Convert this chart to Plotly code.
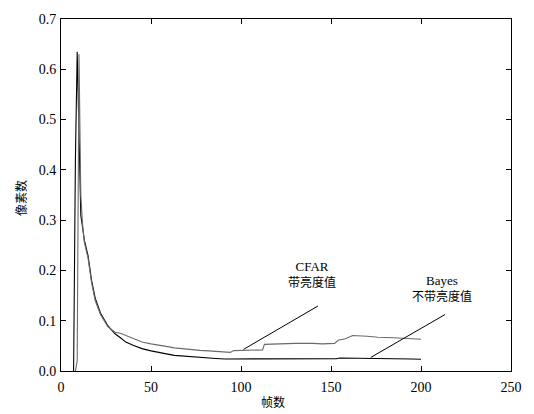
import plotly.graph_objects as go

# ---- data ----
frames_bayes = [7, 8, 9, 10, 11, 12, 13, 15, 17, 19, 22, 26, 30, 33, 36, 40, 45, 50, 54,
                60, 63, 68, 72, 77, 82, 86, 91, 96, 100, 104, 110, 120, 130, 140, 150,
                153, 155, 158, 160, 165, 175, 185, 195, 200]
bayes = [0.0, 0.42, 0.635, 0.46, 0.31, 0.285, 0.26, 0.23, 0.18, 0.145, 0.115, 0.09, 0.074,
         0.066, 0.0575, 0.051, 0.0445, 0.040, 0.0366, 0.033, 0.031, 0.0295, 0.028, 0.027,
         0.0255, 0.025, 0.024, 0.024, 0.0245, 0.024, 0.0245, 0.024, 0.024, 0.0235, 0.024,
         0.0245, 0.026, 0.026, 0.0245, 0.025, 0.025, 0.0245, 0.024, 0.0235]

frames_cfar = [8, 9, 10, 11, 12, 13, 15, 17, 19, 22, 26, 30, 33, 36, 40, 45, 50, 54, 60,
               63, 68, 72, 77, 82, 86, 91, 94, 96, 100, 104, 110, 112, 113, 120, 130, 140,
               145, 152, 154, 158, 162, 170, 176, 185, 192, 200]
cfar = [0.0, 0.02, 0.63, 0.35, 0.29, 0.255, 0.225, 0.175, 0.14, 0.112, 0.088, 0.077, 0.075,
        0.0706, 0.064, 0.0575, 0.054, 0.051, 0.048, 0.046, 0.044, 0.0425, 0.041, 0.040,
        0.0385, 0.037, 0.037, 0.0405, 0.041, 0.042, 0.042, 0.042, 0.053, 0.054, 0.055,
        0.055, 0.054, 0.055, 0.061, 0.064, 0.0706, 0.069, 0.067, 0.066, 0.065, 0.063]

x_ticks = [0, 50, 100, 150, 200, 250]
y_ticks = [0.0, 0.1, 0.2, 0.3, 0.4, 0.5, 0.6, 0.7]

serif = "Liberation Serif, Times New Roman, serif"
cjk = "Noto Sans CJK SC, sans-serif"

fig = go.Figure()
fig.add_trace(go.Scatter(x=frames_bayes, y=bayes, mode="lines",
                         line=dict(color="#000000", width=1.1), name="Bayes"))
fig.add_trace(go.Scatter(x=frames_cfar, y=cfar, mode="lines",
                         line=dict(color="#6a6a6a", width=1.1), name="CFAR"))

axis_common = dict(showline=True, linecolor="black", linewidth=1, mirror="ticks",
                   ticks="inside", ticklen=5, tickcolor="black", tickwidth=1,
                   showgrid=False, zeroline=False,
                   tickfont=dict(family=serif, size=14, color="black"))

fig.update_layout(
    width=534, height=414,
    margin=dict(l=61, r=17, t=14, b=43),
    paper_bgcolor="white", plot_bgcolor="white",
    showlegend=False,
    xaxis=dict(range=[0, 250], tickvals=x_ticks, ticktext=[str(v) for v in x_ticks],
               ticklabelstandoff=3, **axis_common),
    yaxis=dict(range=[0, 0.7], tickvals=y_ticks, ticktext=[f"{v:.1f}" for v in y_ticks],
               ticklabelstandoff=1, **axis_common),
)

serif_span = ("<span style='font-family:Liberation Serif, Times New Roman, serif;"
              "font-size:13px'>{}</span>")

annotations = [
    # pointer lines
    dict(x=101.4, y=0.043, ax=143.6, ay=0.131, xref="x", yref="y", axref="x", ayref="y",
         showarrow=True, arrowhead=0, arrowwidth=1, arrowcolor="black", text=""),
    dict(x=172.1, y=0.027, ax=214.2, ay=0.114, xref="x", yref="y", axref="x", ayref="y",
         showarrow=True, arrowhead=0, arrowwidth=1, arrowcolor="black", text=""),
    # labels
    dict(x=139.2, y=0.191, xref="x", yref="y", xanchor="center", yanchor="middle",
         text=serif_span.format("CFAR") + "<br>带亮度值", showarrow=False,
         font=dict(family=cjk, size=12, color="black")),
    dict(x=211.5, y=0.165, xref="x", yref="y", xanchor="center", yanchor="middle",
         text=serif_span.format("Bayes") + "<br>不带亮度值", showarrow=False,
         font=dict(family=cjk, size=12, color="black")),
    # axis titles
    dict(x=(276 - 61) / 456, y=(371 - 401.5) / 357, xref="paper", yref="paper",
         xanchor="center", yanchor="middle",
         text="帧数", showarrow=False, font=dict(family=cjk, size=12, color="black")),
    dict(x=(20 - 61) / 456, y=(371 - 196) / 357, xref="paper", yref="paper",
         xanchor="center", yanchor="middle",
         text="像素数", textangle=-90, showarrow=False,
         font=dict(family=cjk, size=12, color="black")),
]
fig.update_layout(annotations=annotations)

fig.write_html("out.html")
